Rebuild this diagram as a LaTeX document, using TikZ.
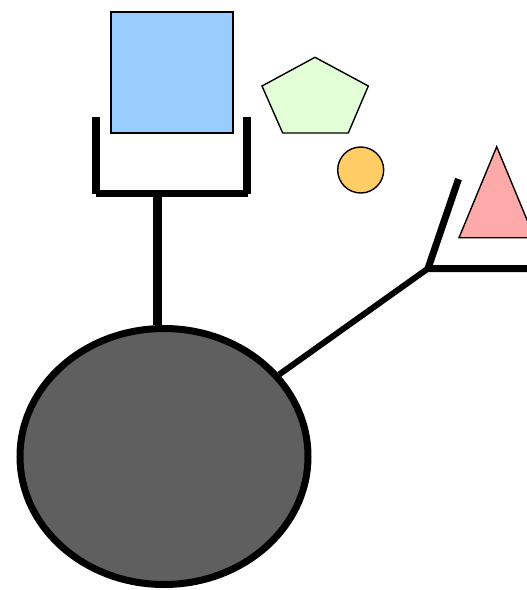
\documentclass[tikz,border=0pt]{standalone}
\usetikzlibrary{shapes.geometric}
\definecolor{sqblue}{HTML}{99CCFF}
\definecolor{pentgreen}{HTML}{E2FFD8}
\definecolor{circorange}{HTML}{FFCC66}
\definecolor{tripink}{HTML}{FFAAAA}
\definecolor{ellgray}{HTML}{5F5F5F}
\tikzset{
  thinshape/.style={draw=black, line width=1.4pt},
  barline/.style={draw=black, line width=7.5pt, line cap=butt},
  conline/.style={draw=black, line width=6pt},
}
\begin{document}
\begin{tikzpicture}[x=1pt,y=-1pt]
\useasboundingbox (0,0) rectangle (527,590);
\clip (0,0) rectangle (527,590);
% shapes
\node[thinshape, fill=sqblue, rectangle, minimum width=122pt, minimum height=121pt, inner sep=0pt] (sq) at (172,72.5) {};
\draw[thinshape, fill=pentgreen] (315,57.3) -- (368.3,86) -- (348.3,133) -- (282.7,133) -- (262,86) -- cycle;
\node[thinshape, fill=circorange, circle, minimum size=46pt, inner sep=0pt] (circ) at (360.7,170) {};
\draw[thinshape, fill=tripink] (496.7,146.7) -- (534.4,237.7) -- (459,237.7) -- cycle;
% bracket
\coordinate (bl1) at (96,117);
\coordinate (bl2) at (96,193.5);
\coordinate (br1) at (247,117);
\coordinate (br2) at (247,193.5);
\coordinate (stemtop) at (157,193.5);
\draw[barline] (bl1) -- ([yshift=-0.5pt]bl2);
\draw[barline] (br1) -- ([yshift=-0.5pt]br2);
\draw[barline] ([xshift=0pt]bl2) -- ([xshift=1pt]br2);
% ellipse
\node[draw=black, line width=7pt, fill=ellgray, ellipse, minimum width=288pt, minimum height=256pt, inner sep=0pt] (ell) at (164,456.5) {};
\draw[draw=black, line width=9pt] (stemtop) -- (stemtop |- ell.north);
% angle
\coordinate (vtx) at (428,268.5);
\coordinate (armtop) at (458.5,179);
\coordinate (armright) at (535,268.5);
\draw[draw=black, line width=7pt, line join=miter] (armtop) -- (vtx) -- (armright);
\draw[conline] (ell) -- (vtx);
\end{tikzpicture}
\end{document}
